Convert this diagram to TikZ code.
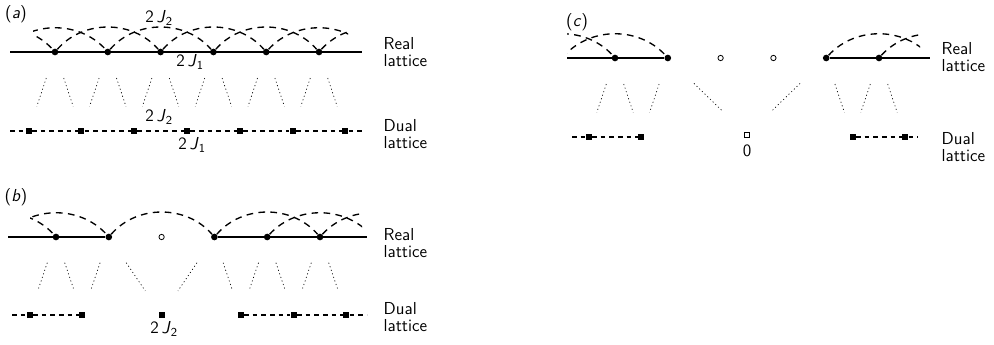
\documentclass[tikz,border=0pt]{standalone}
\usetikzlibrary{calc}
\begin{document}
\begin{tikzpicture}[x=0.75pt, y=-0.75pt, font=\sffamily\fontsize{13pt}{12.5pt}\selectfont,
	site/.style={circle, fill, inner sep=0pt, minimum size=5pt},
	hole/.style={circle, draw, line width=0.6pt, inner sep=0pt, minimum size=4pt},
	dsite/.style={rectangle, fill, inner sep=0pt, minimum size=4.5pt},
	dhole/.style={rectangle, draw, line width=0.6pt, inner sep=0pt, minimum size=4pt},
	bond/.style={line width=1.2pt},
	nnn/.style={line width=1pt, dash pattern=on 5pt off 4pt},
	dbond/.style={line width=0.9pt, dash pattern=on 3.5pt off 3pt},
	link/.style={line width=0.5pt, dash pattern=on 0.8pt off 2pt},
	lbl/.style={align=left, anchor=west}]
	\useasboundingbox (0,0) rectangle (994,345);
	% (a)
	\node at (16,14) {(\textit{a})};
	\foreach \i in {0,1,8,9} \coordinate (a\i) at ({55+52.8*(\i-2)},52);
	\foreach \i in {2,...,7} \node[site] (a\i) at ({55+52.8*(\i-2)},52) {};
	\foreach \i in {0,...,6} \node[dsite] (ad\i) at ({28.6+52.8*\i},131) {};
	\coordinate (aW) at (10,52); \coordinate (aE) at (362,52);
	\coordinate (adW) at (10,131); \coordinate (adE) at (362,131);
	\draw[bond] (aW) -- (aE);
	\begin{scope}
		\clip (33,0) rectangle (348,100);
		\foreach \i [evaluate=\i as \j using int(\i+2)] in {0,...,7} \draw[nnn] (a\i) to[bend left=49] (a\j);
	\end{scope}
	\draw[dbond] (adW) -- (ad0);
	\foreach \i [count=\j] in {0,...,5} \draw[dbond] (ad\i) -- (ad\j);
	\draw[dbond] (ad6) -- (adE);
	\foreach \i [count=\j from 0] in {2,...,7} {
		\pgfmathtruncatemacro{\k}{\j+1}
		\draw[link] ($(a\i)!0.33!(ad\j)$) -- ($(a\i)!0.69!(ad\j)$);
		\draw[link] ($(a\i)!0.33!(ad\k)$) -- ($(a\i)!0.69!(ad\k)$);
	}
	\node at (159,18) {2\,\textit{J}\textsubscript{2}};
	\node at (190,62) {2\,\textit{J}\textsubscript{1}};
	\node at (159,117) {2\,\textit{J}\textsubscript{2}};
	\node at (192,145) {2\,\textit{J}\textsubscript{1}};
	\node[lbl] at (379,52) {Real\\lattice};
	\node[lbl] at (379,134) {Dual\\lattice};
	% (b)
	\node at (16,197) {(\textit{b})};
	\foreach \i in {0,1,8,9} \coordinate (b\i) at ({56+52.8*(\i-2)},237);
	\foreach \i in {2,3,5,6,7} \node[site] (b\i) at ({56+52.8*(\i-2)},237) {};
	\node[hole] (b4) at (161.6,237) {};
	\foreach \i/\x in {0/29.6,1/82.4,c/161.6,3/240.8,4/293.6,5/346.4} \node[dsite] (bd\i) at (\x,315) {};
	\coordinate (bW) at (8,237); \coordinate (bE) at (367,237);
	\coordinate (bdW) at (12,315); \coordinate (bdE) at (367,315);
	\draw[bond] (bW) -- (b3);
	\draw[bond] (b5) -- (bE);
	\begin{scope}
		\clip (30,150) rectangle (362,280);
		\foreach \i/\j in {0/2,1/3,3/5,5/7,6/8,7/9} \draw[nnn] (b\i) to[bend left=49] (b\j);
	\end{scope}
	\draw[dbond] (bdW) -- (bd0);
	\draw[dbond] (bd0) -- (bd1);
	\draw[dbond] (bd3) -- (bd4);
	\draw[dbond] (bd4) -- (bd5);
	\draw[dbond] (bd5) -- (bdE);
	\foreach \i/\j in {2/0,2/1,3/1,3/c,5/c,5/3,6/3,6/4,7/4,7/5}
		\draw[link] ($(b\i)!0.33!(bd\j)$) -- ($(b\i)!0.69!(bd\j)$);
	\node at (164,329) {2\,\textit{J}\textsubscript{2}};
	\node[lbl] at (379,243) {Real\\lattice};
	\node[lbl] at (379,317) {Dual\\lattice};
	% (c)
	\node at (577,22) {(\textit{c})};
	\foreach \i in {0,1,8,9} \coordinate (c\i) at ({615+52.8*(\i-2)},58);
	\foreach \i in {2,3,6,7} \node[site] (c\i) at ({615+52.8*(\i-2)},58) {};
	\foreach \i in {4,5} \node[hole] (c\i) at ({615+52.8*(\i-2)},58) {};
	\foreach \i/\x in {0/588.6,1/641.4,3/852.6,4/905.4} \node[dsite] (cd\i) at (\x,137) {};
	\node[dhole] (cdc) at (747,135) {};
	\coordinate (cW) at (567,58); \coordinate (cE) at (930,58);
	\coordinate (cdW) at (572,137); \coordinate (cdE) at (918,137);
	\draw[bond] (cW) -- (c3);
	\draw[bond] (c6) -- (cE);
	\begin{scope}
		\clip (567,0) rectangle (920,100);
		\foreach \i/\j in {0/2,1/3,6/8,7/9} \draw[nnn] (c\i) to[bend left=49] (c\j);
	\end{scope}
	\draw[dbond] (cdW) -- (cd0);
	\draw[dbond] (cd0) -- (cd1);
	\draw[dbond] (cd3) -- (cd4);
	\draw[dbond] (cd4) -- (cdE);
	\foreach \i/\j in {2/0,2/1,3/1,3/c,6/c,6/3,7/3,7/4}
		\draw[link] ($(c\i)!0.33!(cd\j)$) -- ($(c\i)!0.69!(cd\j)$);
	\node at (747,151) {0};
	\node[lbl] at (937,57) {Real\\lattice};
	\node[lbl] at (937,147) {Dual\\lattice};
\end{tikzpicture}
\end{document}
